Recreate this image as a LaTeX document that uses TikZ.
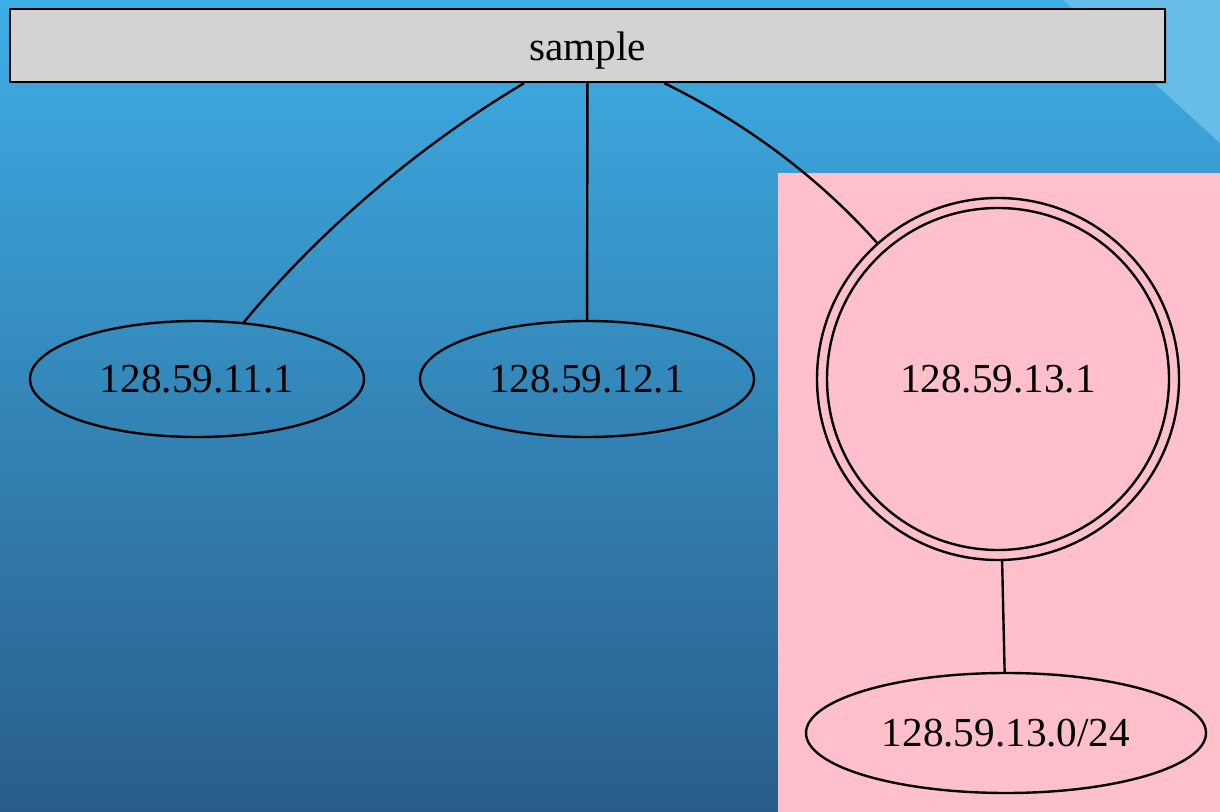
\documentclass[tikz,border=0pt]{standalone}
\usepackage{fontspec}
\setmainfont{Liberation Serif}
\usetikzlibrary{shapes.geometric,shadows}
\definecolor{bgtop}{HTML}{3EAEE6}
\definecolor{bgbot}{HTML}{295D89}
\definecolor{corner}{HTML}{66BDE8}
\definecolor{pinkbg}{HTML}{FFC0CB}
\definecolor{boxgray}{HTML}{D3D3D3}
\tikzset{
  lbl/.style={font=\fontsize{20.6}{25}\selectfont},
  ipnode/.style={draw=black, line width=1.2pt, ellipse, inner sep=0pt, lbl},
  edge/.style={draw=black, line width=1.2pt},
}
\begin{document}
\begin{tikzpicture}[x=0.5pt,y=-0.5pt]
\useasboundingbox (0,0) rectangle (1220,812);
\shade[top color=bgtop, bottom color=bgbot] (0,0) rectangle (1220,812);
\fill[corner] (1063,0) -- (1220,0) -- (1220,143) -- cycle;
\fill[pinkbg] (778,173) rectangle (1220,812);
\node[draw=black, line width=1.2pt, fill=boxgray, rectangle, minimum width=577.5pt, minimum height=36.5pt, inner sep=0pt, lbl, drop shadow={shadow xshift=1pt, shadow yshift=-1pt, opacity=0.4}] (s) at (587.5,45.5) {\raisebox{-2.5pt}[\height][\depth]{sample}};
\node[ipnode, minimum width=167pt, minimum height=58pt] (e1) at (197,379) {128.59.11.1};
\node[ipnode, minimum width=167pt, minimum height=58pt] (e2) at (587,379) {128.59.12.1};
\node[draw=black, line width=1.2pt, circle, minimum size=181pt, inner sep=0pt, lbl] (c) at (998,379) {128.59.13.1};
\draw[edge] (c.center) circle (171);
\node[ipnode, minimum width=200pt, minimum height=60pt] (e4) at (1006,733) {128.59.13.0/24};
\draw[edge] (s) .. controls (420,145) and (320,230) .. (e1);
\draw[edge] (s) -- (e2);
\draw[edge] (s) .. controls (760,130) and (830,190) .. (c);
\draw[edge] (c) -- (e4);
\end{tikzpicture}
\end{document}
